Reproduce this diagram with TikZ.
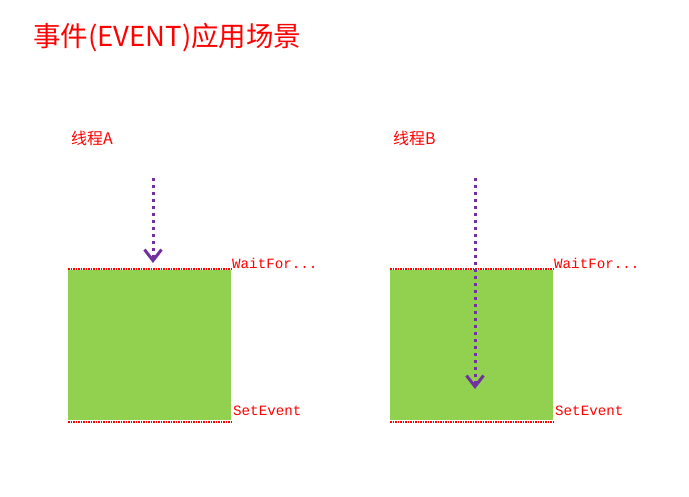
\documentclass[tikz,border=0pt]{standalone}
\usepackage{fontspec}
\usepackage{xcolor}
\usetikzlibrary{arrows.meta}
\newfontfamily\cjkfont{Noto Sans CJK SC}
\newfontfamily\monofont{Liberation Mono}
\definecolor{boxgreen}{RGB}{146,208,80}
\definecolor{arrowpurple}{RGB}{112,48,160}
\tikzset{
  threadlabel/.style={anchor=west,inner sep=0pt,text=red,font=\cjkfont\fontsize{16}{16}\selectfont},
  calllabel/.style={anchor=west,inner sep=0pt,text=red,font=\monofont\fontsize{14.2}{14.2}\selectfont},
  eventbox/.style={fill=boxgreen,draw=none,anchor=north west,inner sep=0pt,minimum width=163,minimum height=150},
  markline/.style={red,line width=1.2pt,dash pattern=on 1.5pt off 1pt},
  waitarrow/.style={arrowpurple,line width=3pt,dash pattern=on 3pt off 4pt,-{Straight Barb[length=11pt,width=17pt,line width=3pt]}}
}

\begin{document}
\begin{tikzpicture}[x=1pt,y=1pt,yscale=-1,xscale=1]
\useasboundingbox (0,0) rectangle (689,496);

% Text Node
\node (title) [anchor=west,inner sep=0pt,text=red,font=\cjkfont\fontsize{27.5}{27.5}\selectfont] at (33,38) {事件(EVENT)应用场景};

% Text Node
\node (labelA) [threadlabel] at (71,138) {线程A};
% Text Node
\node (labelB) [threadlabel] at (393,138) {线程B};

%Shape: Rectangle
\node (boxA) [eventbox] at (68,270) {};
%Shape: Rectangle
\node (boxB) [eventbox] at (390,270) {};

% dotted marks
\draw [markline] ([yshift=-1]boxA.north west) -- ([yshift=-1]boxA.north east);
\draw [markline] ([yshift=1.5]boxA.south west) -- ([yshift=1.5]boxA.south east);
\draw [markline] ([yshift=-1]boxB.north west) -- ([yshift=-1]boxB.north east);
\draw [markline] ([yshift=1.5]boxB.south west) -- ([yshift=1.5]boxB.south east);

% Text Node
\node (waitA) [calllabel] at (232,263) {WaitFor...};
% Text Node
\node (setA) [calllabel] at (233,411) {SetEvent};
% Text Node
\node (waitB) [calllabel] at (554,263) {WaitFor...};
% Text Node
\node (setB) [calllabel] at (555,411) {SetEvent};

% arrows
\coordinate (startA) at (153,178);
\coordinate (endA) at (153,263);
\coordinate (startB) at (475,178);
\coordinate (endB) at (475,389);
\draw [waitarrow] (startA) -- (endA);
\draw [waitarrow] (startB) -- (endB);

\end{tikzpicture}
\end{document}
